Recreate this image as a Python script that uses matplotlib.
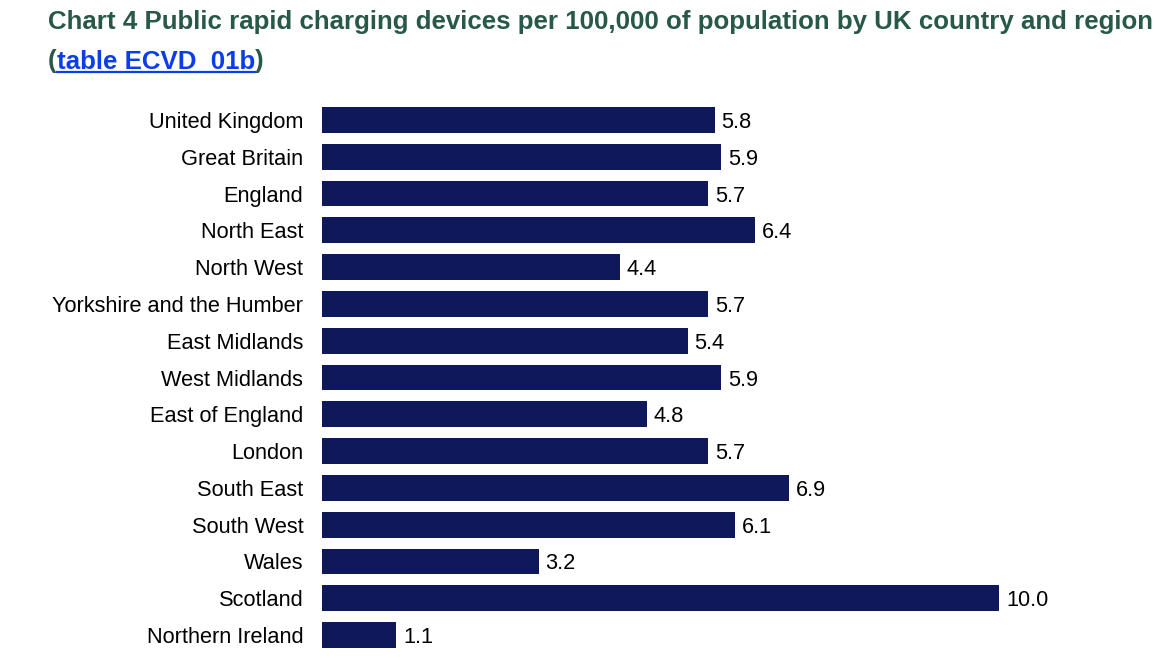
import matplotlib
matplotlib.use('Agg')
import matplotlib.pyplot as plt
from matplotlib.lines import Line2D

plt.rcParams['font.family'] = ['Liberation Sans', 'DejaVu Sans']

regions = ['United Kingdom', 'Great Britain', 'England', 'North East', 'North West',
           'Yorkshire and the Humber', 'East Midlands', 'West Midlands', 'East of England',
           'London', 'South East', 'South West', 'Wales', 'Scotland', 'Northern Ireland']
devices_per_100k = [5.8, 5.9, 5.7, 6.4, 4.4, 5.7, 5.4, 5.9, 4.8, 5.7, 6.9, 6.1, 3.2, 10.0, 1.1]

title_line1 = 'Chart 4 Public rapid charging devices per 100,000 of population by UK country and region'
link_text = 'table ECVD_01b'

bar_col = '#0e185a'
title_col = '#285847'
link_col = '#0b3de8'

W, H = 1168, 664
fig = plt.figure(figsize=(W / 100, H / 100), dpi=100)
ax = fig.add_axes([322 / W, 1 - 653.4 / H, (999 - 322) / W, (653.4 - 101.6) / H])

ypos = list(range(len(regions)))
ax.barh(ypos, devices_per_100k, height=0.70, color=bar_col)
ax.set_xlim(0, 10)
ax.set_ylim(len(regions) - 0.5, -0.5)
ax.set_yticks(ypos)
ax.set_yticklabels(regions, fontsize=15.7, color='black')
ax.tick_params(axis='y', length=0, pad=13.5)
ax.set_xticks([])
for s in ax.spines.values():
    s.set_visible(False)

for y, v in zip(ypos, devices_per_100k):
    ax.annotate(f'{v:.1f}', xy=(v, y), xytext=(5, 0), textcoords='offset points',
                va='center_baseline', ha='left', fontsize=15.7, color='black',
                annotation_clip=False)

# title, second line has a link-styled part
tsize = 18.6
fig.text(48 / W, 1 - 29 / H, title_line1, fontsize=tsize, fontweight='bold', color=title_col,
         ha='left', va='baseline')
t1 = fig.text(48 / W, 1 - 68 / H, '(', fontsize=tsize, fontweight='bold', color=title_col,
              ha='left', va='baseline')
t2 = fig.text(0, 0, link_text, fontsize=tsize, fontweight='bold', color=link_col,
              ha='left', va='baseline')
t3 = fig.text(0, 0, ')', fontsize=tsize, fontweight='bold', color=title_col,
              ha='left', va='baseline')

r = fig.canvas.get_renderer()
inv = fig.transFigure.inverted()
bb1 = t1.get_window_extent(r)
x2 = inv.transform((bb1.x1, 0))[0]
t2.set_position((x2, 1 - 68 / H))
bb2 = t2.get_window_extent(r)
x3 = inv.transform((bb2.x1, 0))[0]
t3.set_position((x3, 1 - 68 / H))
uy = 1 - 71.5 / H
fig.add_artist(Line2D([x2, x3], [uy, uy], transform=fig.transFigure, color=link_col, lw=1.6))

fig.savefig('out.png', dpi=100)
